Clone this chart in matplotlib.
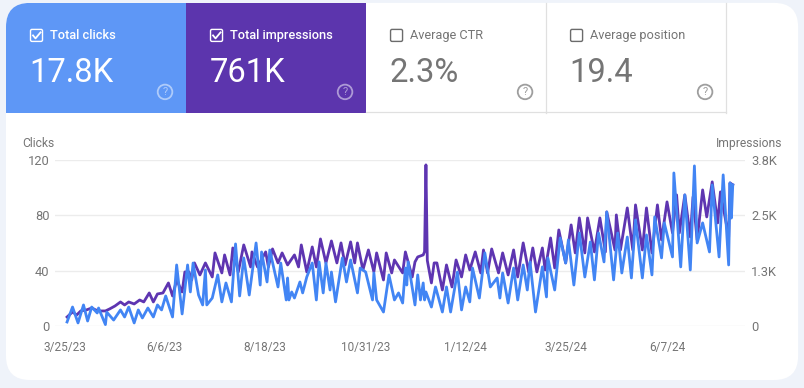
import matplotlib
matplotlib.use('Agg')
import matplotlib.pyplot as plt
from matplotlib.patches import FancyBboxPatch, Rectangle, Circle
from matplotlib.transforms import ScaledTranslation

plt.rcParams['font.family'] = ['Roboto', 'DejaVu Sans']

# days since 3/25/23, read at the turning points of each line
click_days = [0, 4, 8, 12, 15, 18, 22, 23, 28, 29, 34, 39, 42, 45, 49, 52, 55, 59, 63, 66, 69, 72, 77,
              80, 84, 88, 90, 92, 96, 99, 101, 102, 106, 110, 113, 116, 120, 123, 126, 129, 133, 138,
              141, 142, 146, 148, 154, 156, 160, 161, 162, 164, 166, 170, 172, 175, 179, 182, 184, 187,
              189, 192, 193, 196, 201, 204, 207, 212, 214, 218, 223, 224, 226, 231, 235, 239, 242, 245,
              247, 248, 249, 254, 256, 258, 260, 261, 262, 266, 269, 274, 277, 280, 285, 288, 291, 294,
              296, 301, 305, 309, 314, 316, 318, 322, 326, 329, 333, 336, 338, 342, 347, 350, 351, 354,
              356, 360, 364, 366, 370, 374, 378, 382, 385, 388, 392, 394, 399, 402, 405, 409, 412, 415,
              420, 423, 427, 429, 434, 436, 442, 443, 448, 451, 455, 458, 460, 464, 469, 471, 476, 479,
              483, 484, 485, 486]
clicks = [2.9, 13.7, 2.2, 15.2, 3.6, 13.7, 9.4, 13, 1, 10, 4.3, 11.6, 6.5, 13.7, 2.2, 11.6, 5.8, 13, 6.5,
          15.2, 11.6, 21.7, 6.5, 44.1, 8.7, 44.1, 24.6, 45.5, 22.4, 15.2, 40.5, 15.2, 20.2, 36.9, 17.4,
          31.1, 17.4, 59.3, 21.7, 49.2, 22.4, 60, 29.6, 53.5, 31.8, 54.9, 28.2, 45.5, 18.8, 34.7, 18.8,
          24.6, 20.2, 31.8, 23.9, 35.4, 45.5, 18.8, 46.3, 23.9, 45.5, 26, 39, 17.4, 49.2, 31.8, 47.7,
          23.9, 41.9, 39, 18.8, 38.3, 18.8, 10.1, 36.9, 18.8, 23.9, 16.6, 41.9, 29.6, 46.3, 15.2, 36.9,
          18.8, 31.1, 18.8, 24.6, 13.7, 28.2, 10.1, 28.2, 10.1, 39, 11.6, 28.2, 17.4, 41.9, 20.2, 52.8,
          28.2, 34.7, 20.2, 38.3, 16.6, 41.9, 18.8, 44.1, 26, 46.3, 10.1, 42.7, 21, 49.2, 35.4, 26, 63.6,
          45.5, 62.2, 29.6, 67.2, 35.4, 60.7, 33.3, 67.2, 46.3, 82.4, 33.3, 67.2, 38.3, 64.3, 34.7, 76.6,
          34.7, 65.8, 36.9, 78.8, 49.2, 74.5, 49.9, 110.6, 42.7, 94.7, 40.5, 115.7, 60, 74.5, 53.5, 101.9,
          49.9, 109.2, 44.1, 103.4, 78, 102]

impression_days = [0, 4, 7, 10, 14, 18, 21, 24, 28, 31, 35, 39, 42, 45, 49, 53, 56, 60, 63, 66, 70, 74, 77,
                   80, 84, 86, 89, 91, 93, 97, 101, 106, 108, 113, 115, 119, 121, 125, 129, 134, 135, 139,
                   145, 147, 150, 154, 157, 161, 166, 169, 171, 175, 179, 182, 185, 189, 193, 197, 200,
                   203, 207, 210, 212, 216, 220, 224, 226, 231, 233, 237, 239, 245, 247, 252, 254, 256,
                   260, 261, 262, 263, 266, 268, 270, 274, 277, 281, 284, 288, 291, 294, 298, 302, 304,
                   307, 310, 315, 318, 322, 326, 329, 333, 337, 340, 343, 347, 349, 353, 356, 359, 364,
                   368, 371, 374, 378, 380, 385, 389, 393, 394, 400, 401, 404, 409, 413, 415, 420, 423,
                   427, 431, 434, 438, 442, 445, 447, 451, 455, 457, 460, 464, 467, 471, 475, 477, 483,
                   484, 486]
impressions = [206, 321, 252, 344, 366, 412, 366, 344, 344, 389, 458, 550, 481, 550, 504, 595, 550, 756, 550,
               733, 756, 985, 687, 1053, 779, 1237, 1237, 1053, 1443, 1168, 1443, 1122, 1672, 1214, 1626, 1168,
               1786, 1237, 1855, 1351, 1695, 1351, 1695, 1351, 1763, 1443, 1672, 1397, 1626, 1351, 1855, 1237,
               1809, 1351, 1992, 1443, 1946, 1443, 1901, 1397, 1924, 1443, 1901, 1282, 1740, 1237, 1672, 1053,
               1672, 1214, 1511, 1214, 1695, 1122, 1466, 1580, 1626, 1700, 3687, 1500, 985, 1443, 1443, 824,
               1397, 893, 1511, 1122, 1626, 1282, 1695, 1214, 1740, 1214, 1763, 1214, 1672, 1168, 1740, 1122,
               1901, 1237, 1786, 1237, 1786, 1282, 2015, 1328, 2198, 1443, 2313, 1672, 2473, 1672, 2473, 1695,
               2473, 1695, 2611, 1740, 2542, 1740, 2702, 1740, 2771, 1740, 2702, 1672, 2771, 1969, 2840, 2130,
               3000, 2130, 3000, 2038, 2954, 1969, 3114, 2496, 3298, 2359, 3069, 2038, 3275, 3229]

tick_days = [0, 73, 146, 220, 293, 366, 440]
tick_labels = ['3/25/23', '6/6/23', '8/18/23', '10/31/23', '1/12/24', '3/25/24', '6/7/24']
click_ticks = [0, 40, 80, 120]
impression_ticks = [0, 1267, 2533, 3800]
impression_labels = ['0', '1.3K', '2.5K', '3.8K']

tile_names = ['Total clicks', 'Total impressions', 'Average CTR', 'Average position']
tile_values = ['17.8K', '761K', '2.3%', '19.4']

W, H = 804, 388
BLUE = '#4285f4'
PURPLE = '#5e35b1'
GREY = '#757575'

fig = plt.figure(figsize=((W + 0.1) / 100, (H + 0.1) / 100), dpi=100, facecolor='#eff3fa')

# page layer in pixel coordinates
bg = fig.add_axes([0, 0, 1, 1])
bg.set_xlim(0, W)
bg.set_ylim(H, 0)
bg.axis('off')

card = FancyBboxPatch((6, 3), 792, 377, boxstyle='round,pad=0,rounding_size=24', fc='white', ec='none')
bg.add_patch(card)

tile_x = [6, 186, 366, 546]
tile_fill = ['#5e97f6', '#5c35ad', 'white', 'white']
for i in range(4):
    x = tile_x[i]
    selected = i < 2
    r = Rectangle((x, 3), 180, 110, fc=tile_fill[i], ec='none')
    bg.add_patch(r)
    r.set_clip_path(card)
    fg = 'white' if selected else '#757575'
    if not selected:
        bg.plot([x + 179.5, x + 179.5], [3, 113], color='#e0e0e0', lw=0.9)
        bg.plot([x, x + 180], [112.5, 112.5], color='#e0e0e0', lw=0.9)

    # checkbox
    bg.add_patch(FancyBboxPatch((x + 24.5, 29.5), 12, 12, boxstyle='round,pad=0,rounding_size=1.5',
                                fc='none', ec=fg if selected else '#6b6b6b', lw=1.0))
    if selected:
        bg.plot([x + 27, x + 29.5, x + 34.5], [35.5, 38.5, 32.5], color='white', lw=1.3)

    bg.text(x + 44, 39, tile_names[i], color=fg, fontsize=9.2, va='baseline', weight='medium' if selected else 'normal')
    bg.text(x + 23.5, 81.5, tile_values[i], color=fg, fontsize=23.6, va='baseline')

    # help icon
    icon = '#ffffff' if selected else '#9e9e9e'
    a = 0.5 if selected else 1
    bg.add_patch(Circle((x + 159, 92), 7.3, fc='none', ec=icon, lw=1.3, alpha=a))
    bg.text(x + 159, 92.3, '?', color=icon, fontsize=8, ha='center', va='center', alpha=a)

# chart
ax = fig.add_axes([55 / W, 1 - 326 / H, 690 / W, 166 / H])
ax2 = ax.twinx()
ax.set_zorder(ax2.get_zorder() + 1)
ax.patch.set_visible(False)
ax2.patch.set_visible(False)

ax2.plot(impression_days, impressions, color=PURPLE, lw=2.0, solid_joinstyle='round')
ax.plot(click_days, clicks, color=BLUE, lw=2.0, solid_joinstyle='round')

ax.set_xlim(-8.8, 495)
ax.set_ylim(0, 120)
ax2.set_ylim(0, 3800)
ax.set_yticks(click_ticks)
ax2.set_yticks(impression_ticks)
ax2.set_yticklabels(impression_labels)
ax.set_xticks(tick_days)
ax.set_xticklabels(tick_labels)
ax2.grid(axis='y', color='#ececec', lw=1)
ax2.set_axisbelow(True)

for a in (ax, ax2):
    for s in a.spines.values():
        s.set_visible(False)
    a.tick_params(length=0, colors=GREY, labelsize=9.3)
ax.tick_params(axis='x', pad=11, labelsize=8.5)
ax.tick_params(axis='y', pad=4)
ax2.tick_params(axis='y', pad=4.3)

# date labels sit a little left of their dates
shift = ScaledTranslation(-2.5 / 100, 0, fig.dpi_scale_trans)
for lab in ax.get_xticklabels():
    lab.set_transform(lab.get_transform() + shift)

bg.text(22, 147, 'Clicks', color=GREY, fontsize=8.7, va='baseline')
bg.text(782, 147, 'Impressions', color=GREY, fontsize=8.7, va='baseline', ha='right')

fig.savefig('out.png', dpi=100, facecolor=fig.get_facecolor())
